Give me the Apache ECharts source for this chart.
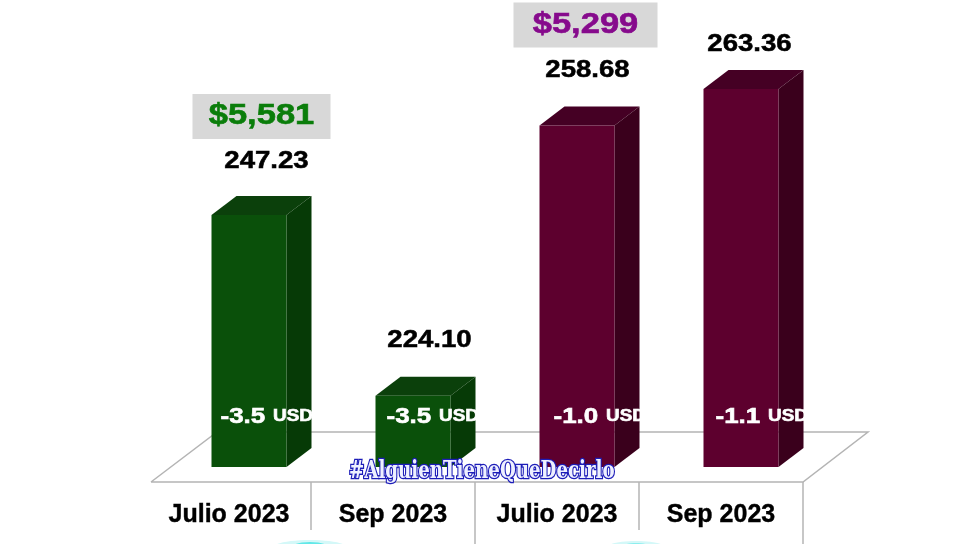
<!DOCTYPE html>
<html>
<head>
<meta charset="utf-8">
<style>html,body{margin:0;padding:0;background:#fff}#chart{width:966px;height:544px}</style>
<script src="https://cdn.jsdelivr.net/npm/echarts@6/dist/echarts.min.js"></script>
</head>
<body>
<div id="chart"></div>
<script>
var categories = ['Julio 2023', 'Sep 2023', 'Julio 2023', 'Sep 2023'];
var values = [247.23, 224.10, 258.68, 263.36];
var changes = ['-3.5', '-3.5', '-1.0', '-1.1'];
var prices = ['$5,581', '', '$5,299', ''];
var watermark = '#AlguienTieneQueDecirlo';

// colores: frente, tapa, lado
var greens = ['#0a500a', '#0b400b', '#063a06'];
var maroons = ['#5d002e', '#450024', '#3a001c'];
var palette = [greens, greens, maroons, maroons];
var priceColors = ['#0a7d0a', '', '#860a8c', ''];

var barW = 75, depthX = 25, depthY = 19, barShift = 20;
var font = '"Liberation Sans", Arial, sans-serif';
// ajustes finos de las etiquetas
var valueShift = [5, 4, -2, -4];
var priceShift = [0, 0, -4, 0];
var priceBoxW = [138, 0, 144, 0];
var changeShift = [9, 11, 14, 12];
var labelGap = [34, 36, 36, 25];

function renderBar(params, api) {
  var i = api.value(0);
  var base = api.coord([i, 215]);
  var top = api.coord([i, api.value(1)]);
  var x0 = base[0] + barShift - barW / 2;
  var x1 = x0 + barW;
  var c = palette[i];
  var labelY = top[1] - depthY - labelGap[i];
  var cx = x0 + (barW + depthX) / 2;
  var kids = [
    {type: 'polygon', shape: {points: [[x0, top[1]], [x0 + depthX, top[1] - depthY], [x1 + depthX, top[1] - depthY], [x1, top[1]]]}, style: {fill: c[1]}},
    {type: 'polygon', shape: {points: [[x1, top[1]], [x1 + depthX, top[1] - depthY], [x1 + depthX, base[1] - depthY], [x1, base[1]]]}, style: {fill: c[2]}},
    {type: 'rect', shape: {x: x0, y: top[1], width: barW, height: base[1] - top[1]}, style: {fill: c[0]}},
    {type: 'text', x: cx + valueShift[i], y: labelY, scaleX: 1.2, style: {text: api.value(1).toFixed(2), font: 'bold 23px ' + font, fill: '#000', stroke: '#000', lineWidth: 0.5, align: 'center', verticalAlign: 'middle'}},
    {type: 'text', x: x0 + changeShift[i], y: api.coord([i, 221.4])[1], scaleX: 1.18, style: {
      text: '{a|' + changes[i] + '}  {b|USD}',
      align: 'left', verticalAlign: 'middle',
      rich: {
        a: {font: 'bold 22px ' + font, fill: '#fff', stroke: '#fff', lineWidth: 0.6},
        b: {font: 'bold 16px ' + font, fill: '#fff', stroke: '#fff', lineWidth: 0.6}
      }
    }}
  ];
  if (prices[i]) {
    var px = cx + priceShift[i];
    kids.push({type: 'rect', shape: {x: px - priceBoxW[i] / 2, y: labelY - 68, width: priceBoxW[i], height: 45}, style: {fill: '#d8d8d8'}});
    kids.push({type: 'text', x: px, y: labelY - 46, scaleX: 1.15, style: {text: prices[i], font: 'bold 30px ' + font, fill: priceColors[i], stroke: priceColors[i], lineWidth: 0.6, align: 'center', verticalAlign: 'middle'}});
  }
  return {type: 'group', children: kids};
}

// piso y lineas de la tabla, salen de las bandas del eje
function renderFloor(params, api) {
  var band = api.size([1, 0])[0];
  var base = api.coord([0, 215]);
  var left = base[0] - band / 2;
  var right = left + band * 4;
  var front = base[1] + 15, back = base[1] - 35;
  var line = {stroke: '#b4b4b4', lineWidth: 1.5, fill: null};
  var kids = [
    {type: 'polyline', shape: {points: [[left + 4, front], [right, front], [right + 65, back], [left + 70, back], [left + 4, front]]}, style: line}
  ];
  for (var k = 1; k <= 4; k++) {
    var lx = left + band * k;
    kids.push({type: 'line', shape: {x1: lx, y1: front, x2: lx, y2: k % 2 ? front + 48 : 544}, style: line});
  }
  return {type: 'group', children: kids};
}

var chart = echarts.init(document.getElementById('chart'));
chart.setOption({
  backgroundColor: '#fff',
  animation: false,
  grid: {left: 147, width: 656, top: 37, height: 430},
  xAxis: {
    type: 'category',
    data: categories,
    axisLine: {show: false},
    axisTick: {show: false},
    axisLabel: {margin: 36, color: '#000', fontFamily: 'Liberation Sans', fontWeight: 'bold', fontSize: 25, textBorderColor: '#000', textBorderWidth: 0.4}
  },
  yAxis: {type: 'value', min: 215, max: 270, show: false, splitLine: {show: false}},
  series: [
    {type: 'custom', data: [[0, 215]], renderItem: renderFloor, clip: false, z: 1, silent: true},
    {type: 'custom', data: values.map(function (v, i) { return [i, v]; }), encode: {x: 0, y: 1}, renderItem: renderBar, clip: false, z: 2}
  ],
  graphic: [
    {type: 'text', x: 349, y: 472, scaleX: 0.92, scaleY: 1.12, z: 10, style: {text: watermark, font: 'bold 22px "DejaVu Serif Condensed", "Liberation Serif", serif', verticalAlign: 'middle', fill: '#eef0ff', stroke: '#1c1cb8', lineWidth: 2.4, shadowColor: '#7f7fe8', shadowBlur: 4}},
    {type: 'ellipse', shape: {cx: 310, cy: 548, rx: 38, ry: 8}, style: {fill: '#d4f8f8'}, z: 0},
    {type: 'ellipse', shape: {cx: 310, cy: 547, rx: 18, ry: 5}, style: {fill: '#62e8e8'}, z: 0},
    {type: 'ellipse', shape: {cx: 636, cy: 548, rx: 30, ry: 7}, style: {fill: '#d4f8f8'}, z: 0},
    {type: 'ellipse', shape: {cx: 636, cy: 547, rx: 14, ry: 4}, style: {fill: '#8ceeee'}, z: 0}
  ]
});
</script>
</body>
</html>
